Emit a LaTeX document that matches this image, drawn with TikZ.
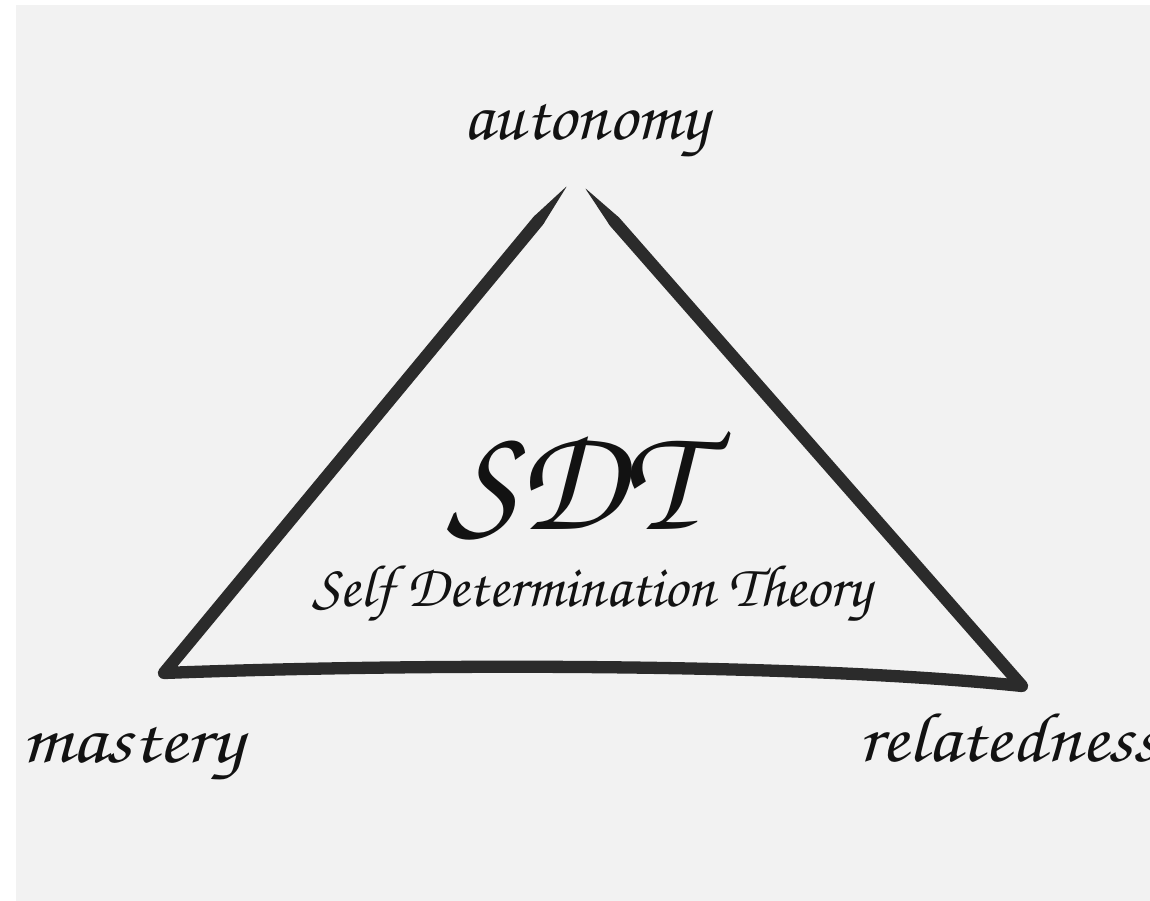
\documentclass[tikz,border=0pt]{standalone}
\usepackage[T1,TU]{fontenc}
\usetikzlibrary{calc}
\definecolor{cPaper}{RGB}{242,242,242}
\definecolor{cInk}{RGB}{43,43,43}
\definecolor{cText}{RGB}{18,18,18}
\newcommand{\handfont}{\usefont{T1}{pzc}{mb}{it}}
\newcommand{\wide}[2][1.16]{\scalebox{#1}[1]{#2}}
\tikzset{
  side/.style   ={draw=cInk,line width=7pt,line cap=round,line join=round},
  brush/.style  ={fill=cInk,rounded corners=0.6pt},
  corner/.style ={font=\handfont\fontsize{40}{40}\selectfont,text=cText,
                  inner sep=0pt,anchor=base},
  title/.style  ={font=\handfont\fontsize{86}{86}\selectfont,text=cText,
                  inner sep=0pt,anchor=base},
  subtitle/.style={font=\handfont\fontsize{34}{34}\selectfont,text=cText,
                  inner sep=0pt,anchor=base},
}
\begin{document}
\begin{tikzpicture}[x=0.02cm,y=-0.02cm]

% paper
\fill[white] (0,0) rectangle (1150,901);
\fill[cPaper] (16,5) rectangle (1150,901);
\useasboundingbox (0,0) rectangle (1150,901);

% corners of the triangle
\coordinate (aL) at (567,186);
\coordinate (aR) at (585,188);
\coordinate (bl) at (164,673);
\coordinate (br) at (1022,686);

% where the brush ends start to thin out
\coordinate (pL) at ($(aL)!0.9cm!(bl)$);
\coordinate (pR) at ($(aR)!0.9cm!(br)$);

\fill[brush] (aL) -- ($(pL)!0.123cm!90:(bl)$) -- ($(pL)!0.123cm!-90:(bl)$) -- cycle;
\fill[brush] (aR) -- ($(pR)!0.123cm!90:(br)$) -- ($(pR)!0.123cm!-90:(br)$) -- cycle;

\draw[side] (pL) -- (bl) .. controls (400,664) and (790,662) .. (br) -- (pR);

% labels
\node[corner] (autonomy) at (586,140) {autonomy};
\node[corner] (mastery) at (132,763) {\wide{mastery}};
\node[corner,anchor=base west] (relatedness) at (858,762) {\wide[1.11]{relatedness}};

\node[title] (sdt) at (573,530) {SDT};
\node[subtitle] (sdtfull) at (592,607) {Self Determination Theory};

\end{tikzpicture}
\end{document}
